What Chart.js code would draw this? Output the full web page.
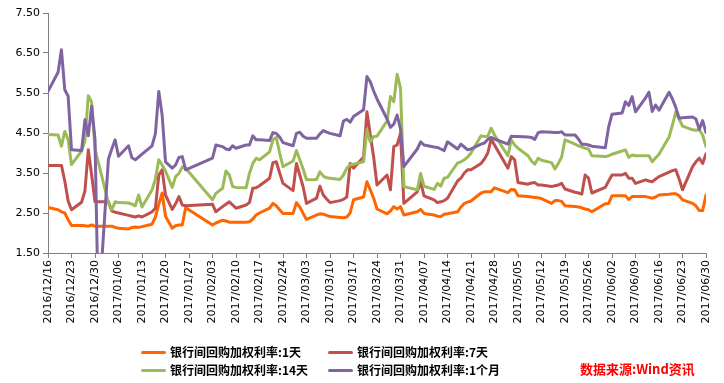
<!DOCTYPE html>
<html><head><meta charset="utf-8">
<script src="https://cdn.jsdelivr.net/npm/chart.js@4/dist/chart.umd.min.js"></script>
<style>
html,body{margin:0;padding:0;background:#fff;}
#wrap{position:relative;width:724px;height:383px;}
#c{position:absolute;left:0;top:0;}
.lg{position:absolute;font-family:"Noto Sans CJK SC","DejaVu Sans",sans-serif;font-size:12px;font-weight:bold;color:#000;line-height:14px;white-space:nowrap;}
.sw{position:absolute;height:3px;width:25px;border-radius:1.5px;}
#src{position:absolute;font-family:"Noto Sans CJK SC",sans-serif;font-size:13px;font-weight:bold;color:#ff0000;white-space:nowrap;}
</style></head>
<body><div id="wrap"><canvas id="c" width="724" height="383"></canvas></div>
<script>
const seriesNames = ["银行间回购加权利率:1天","银行间回购加权利率:7天","银行间回购加权利率:14天","银行间回购加权利率:1个月"];
const sourceText = "数据来源:Wind资讯";
const tickLabels = ["2016/12/16","2016/12/23","2016/12/30","2017/01/06","2017/01/13","2017/01/20","2017/01/27","2017/02/03","2017/02/10","2017/02/17","2017/02/24","2017/03/03","2017/03/10","2017/03/17","2017/03/24","2017/03/31","2017/04/07","2017/04/14","2017/04/21","2017/04/28","2017/05/05","2017/05/12","2017/05/19","2017/05/26","2017/06/02","2017/06/09","2017/06/16","2017/06/23","2017/06/30"];
const yTicks = [1.5,2.5,3.5,4.5,5.5,6.5,7.5];
const dates = ["2016/12/16","2016/12/19","2016/12/20","2016/12/21","2016/12/22","2016/12/23","2016/12/26","2016/12/27","2016/12/28","2016/12/29","2016/12/30","2016/12/31",
"2017/01/03","2017/01/04","2017/01/05","2017/01/06","2017/01/09","2017/01/10","2017/01/11","2017/01/12","2017/01/13","2017/01/16","2017/01/17","2017/01/18","2017/01/19","2017/01/20","2017/01/22","2017/01/23","2017/01/24","2017/01/25","2017/01/26",
"2017/02/03","2017/02/04","2017/02/06","2017/02/07","2017/02/08","2017/02/09","2017/02/10","2017/02/13","2017/02/14","2017/02/15","2017/02/16","2017/02/17","2017/02/20","2017/02/21","2017/02/22","2017/02/23","2017/02/24","2017/02/27","2017/02/28",
"2017/03/01","2017/03/02","2017/03/03","2017/03/06","2017/03/07","2017/03/08","2017/03/09","2017/03/10","2017/03/13","2017/03/14","2017/03/15","2017/03/16","2017/03/17","2017/03/20","2017/03/21","2017/03/22","2017/03/23","2017/03/24","2017/03/27","2017/03/28","2017/03/29","2017/03/30","2017/03/31",
"2017/04/01","2017/04/05","2017/04/06","2017/04/07","2017/04/10","2017/04/11","2017/04/12","2017/04/13","2017/04/14","2017/04/17","2017/04/18","2017/04/19","2017/04/20","2017/04/21","2017/04/24","2017/04/25","2017/04/26","2017/04/27","2017/04/28",
"2017/05/02","2017/05/03","2017/05/04","2017/05/05","2017/05/08","2017/05/09","2017/05/10","2017/05/11","2017/05/12","2017/05/15","2017/05/16","2017/05/17","2017/05/18","2017/05/19","2017/05/22","2017/05/23","2017/05/24","2017/05/25","2017/05/26","2017/05/27","2017/05/31",
"2017/06/01","2017/06/02","2017/06/05","2017/06/06","2017/06/07","2017/06/08","2017/06/09","2017/06/12","2017/06/13","2017/06/14","2017/06/15","2017/06/16","2017/06/19","2017/06/20","2017/06/21","2017/06/22","2017/06/23","2017/06/26","2017/06/27","2017/06/28","2017/06/29","2017/06/30"];
const rate1D = [2.64,2.58,2.53,2.50,2.33,2.19,2.19,2.18,2.17,2.20,2.17,null,
2.17,2.17,2.14,2.12,2.10,2.14,2.15,2.14,2.16,2.22,2.40,2.72,3.00,2.42,2.12,2.18,2.20,2.20,2.63,
2.20,2.25,2.32,2.30,2.27,2.27,2.27,2.27,2.28,2.35,2.45,2.50,2.62,2.74,2.68,2.58,2.49,2.49,2.76,
2.65,2.49,2.34,2.45,2.48,2.47,2.44,2.41,2.39,2.38,2.40,2.50,2.83,2.90,3.28,3.08,2.87,2.60,2.48,2.55,2.66,2.60,2.66,
2.45,2.53,2.59,2.49,2.45,2.42,2.41,2.47,2.48,2.53,2.65,2.74,2.77,2.80,3.00,3.03,3.03,3.03,3.13,
3.01,3.09,3.08,2.93,2.91,2.90,2.89,2.88,2.86,2.74,2.81,2.81,2.79,2.68,2.66,2.65,2.63,2.60,2.58,2.53,2.73,
2.74,2.93,2.93,2.93,2.84,2.91,2.91,2.91,2.89,2.87,2.90,2.95,2.97,2.98,2.98,2.93,2.83,2.74,2.68,2.56,2.56,2.95];
const rate7D = [3.69,3.69,3.69,3.30,2.80,2.58,2.77,3.05,4.08,3.45,2.78,null,
2.78,2.55,2.52,2.50,2.44,2.42,2.40,2.43,2.40,2.53,2.62,3.45,3.58,2.95,2.59,2.73,2.91,2.70,2.68,
2.72,2.53,2.66,2.72,2.78,2.70,2.62,2.70,2.76,3.12,3.13,3.18,3.37,3.76,3.78,3.50,3.24,3.06,3.74,
3.45,3.15,2.74,2.87,3.17,2.95,2.85,2.76,2.81,2.84,2.90,3.74,3.62,3.90,5.03,4.45,3.90,3.20,3.45,3.08,4.16,4.20,4.49,
2.74,3.03,3.28,2.93,2.83,2.76,2.78,2.81,2.87,3.30,3.37,3.50,3.58,3.58,3.74,3.85,4.00,4.35,4.20,
3.62,3.91,3.83,3.26,3.22,3.25,3.26,3.20,3.20,3.16,3.18,3.20,3.24,3.10,3.02,3.00,2.97,3.45,3.37,3.00,3.14,
3.30,3.45,3.45,3.49,3.37,3.37,3.24,3.33,3.30,3.28,3.35,3.41,3.52,3.56,3.58,3.35,3.08,3.66,3.78,3.87,3.74,3.98];
const rate14D = [4.46,4.45,4.17,4.54,4.33,3.71,4.05,4.30,5.43,5.27,4.10,null,
2.75,2.58,2.78,2.76,2.75,2.72,2.68,2.95,2.65,3.08,3.35,3.83,3.70,3.55,3.14,3.41,3.49,3.65,3.62,
2.83,2.99,3.12,3.55,3.45,3.16,3.14,3.13,3.49,3.74,3.87,3.83,4.03,4.33,4.39,4.00,3.66,3.80,4.06,
3.83,3.60,3.33,3.34,3.53,3.42,3.38,3.37,3.34,3.45,3.62,3.70,3.72,3.78,4.58,4.28,4.41,4.42,4.80,5.41,5.28,5.97,5.62,
3.16,3.08,3.49,3.17,3.09,3.24,3.17,3.37,3.39,3.75,3.78,3.83,3.90,4.00,4.43,4.41,4.42,4.62,4.45,
3.93,4.33,4.20,4.12,3.93,3.80,3.72,3.87,3.82,3.76,3.60,3.74,3.90,4.33,4.22,4.18,4.15,4.12,4.10,3.93,3.91,
3.93,3.97,4.05,4.08,3.89,3.95,3.93,3.93,3.93,3.78,3.88,3.97,4.40,4.70,5.03,4.85,4.67,4.58,4.57,4.58,4.45,4.16];
const rate1M = [5.54,6.02,6.58,5.58,5.42,4.08,4.06,4.83,4.43,5.17,4.34,0.00,
3.85,4.10,4.33,3.92,4.18,3.88,3.83,3.90,3.97,4.18,4.49,5.54,4.95,3.78,3.62,3.70,3.89,3.91,3.58,
3.87,4.20,4.16,4.10,4.08,4.18,4.12,4.20,4.20,4.43,4.33,4.33,4.31,4.51,4.49,4.40,4.26,4.18,4.49,
4.52,4.42,4.37,4.37,4.48,4.56,4.52,4.49,4.43,4.80,4.84,4.77,4.91,5.08,5.91,5.78,5.55,5.35,4.85,4.64,4.72,4.95,4.60,
3.66,4.10,4.28,4.20,4.15,4.14,4.10,4.06,4.28,4.10,4.22,4.15,4.08,4.10,4.22,4.25,4.34,4.39,4.35,
4.22,4.42,4.41,4.41,4.40,4.39,4.34,4.51,4.53,4.52,4.51,4.51,4.53,4.45,4.45,4.35,4.22,4.22,4.20,4.17,4.13,
4.65,4.97,5.00,5.28,5.19,5.41,5.03,5.38,5.52,5.04,5.20,5.07,5.52,5.35,5.14,4.87,4.88,4.90,4.85,4.59,4.81,4.51];
const colors = ["#FF6600","#C0504D","#9BBB59","#8064A2"];

function dayIndex(s){const p=s.split('/').map(Number);return Math.round((Date.UTC(p[0],p[1]-1,p[2])-Date.UTC(2016,11,16))/86400000);}
const xs = dates.map(dayIndex);
function pts(arr){return arr.map((v,i)=>({x:xs[i],y:v}));}
const allSeries=[rate1D,rate7D,rate14D,rate1M];
const font={family:"'DejaVu Sans', Verdana, sans-serif",size:11};
new Chart(document.getElementById('c'),{
  type:'line',
  data:{datasets:allSeries.map((a,i)=>({label:seriesNames[i],data:pts(a),order:allSeries.length-i,borderColor:colors[i],backgroundColor:colors[i],borderWidth:3,pointRadius:0,tension:0,spanGaps:true,borderJoinStyle:'round',borderCapStyle:'round'}))},
  options:{
    responsive:false,animation:false,
    layout:{padding:{top:13,right:18,bottom:50,left:0}},
    plugins:{legend:{display:false},tooltip:{enabled:false}},
    scales:{
      x:{type:'linear',min:0,max:196,
        afterBuildTicks:(s)=>{s.ticks=tickLabels.map((t,i)=>({value:i*7}));},
        ticks:{autoSkip:false,maxRotation:90,minRotation:90,color:'#000',font:font,padding:2,callback:(v)=>tickLabels[Math.round(v/7)]},
        grid:{display:true,drawOnChartArea:false,drawTicks:true,tickLength:5,color:'#808080'},
        border:{display:true,color:'#808080',width:1},
        afterFit:(s)=>{s.height=80;}
      },
      y:{min:1.5,max:7.5,
        afterBuildTicks:(s)=>{s.ticks=yTicks.map(v=>({value:v}));},
        ticks:{color:'#000',font:font,padding:3,callback:(v)=>v.toFixed(2)},
        grid:{display:true,drawOnChartArea:false,drawTicks:true,tickLength:5,color:'#808080'},
        border:{display:true,color:'#808080',width:1},
        afterFit:(s)=>{s.width=48;}
      }
    }
  }
});
// legend
const wrap=document.getElementById('wrap');
const lpos=[[141,352],[328,352],[141,370],[328,370]];
seriesNames.forEach((n,i)=>{
  const sw=document.createElement('div');sw.className='sw';sw.style.background=colors[i];
  sw.style.left=lpos[i][0]+'px';sw.style.top=(lpos[i][1]-1)+'px';wrap.appendChild(sw);
  const t=document.createElement('div');t.className='lg';t.textContent=n;
  t.style.left=(lpos[i][0]+29)+'px';t.style.top=(lpos[i][1]-7)+'px';wrap.appendChild(t);
});
const s=document.createElement('div');s.id='src';s.textContent=sourceText;s.style.left='580px';s.style.top='359px';wrap.appendChild(s);
</script></body></html>
